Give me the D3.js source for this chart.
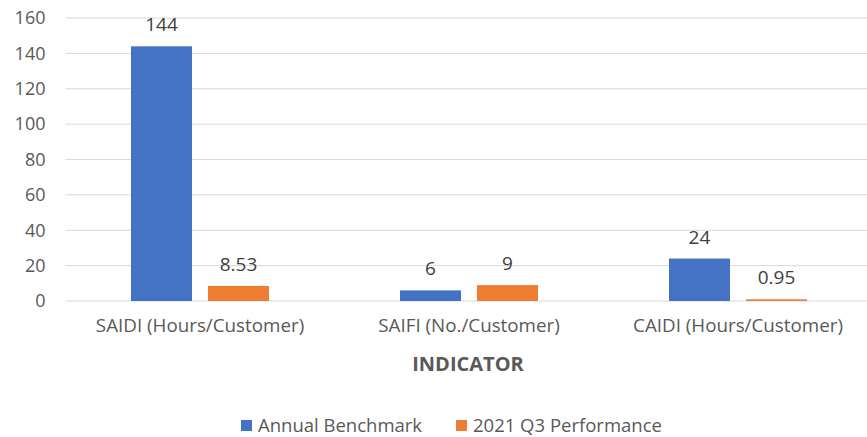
<!DOCTYPE html>
<html><head><meta charset="utf-8">
<script src="https://cdn.jsdelivr.net/npm/d3@7"></script>
<style>body{margin:0;background:#fff;} text{font-family:"Open Sans","Noto Sans",sans-serif;}</style>
</head><body>
<svg id="c" width="867" height="437"></svg>
<script>
const categories = ["SAIDI (Hours/Customer)", "SAIFI (No./Customer)", "CAIDI (Hours/Customer)"];
const seriesNames = ["Annual Benchmark", "2021 Q3 Performance"];
const benchmark = [144, 6, 24];
const performance = [8.53, 9, 0.95];
const benchmarkLabels = ["144", "6", "24"];
const performanceLabels = ["8.53", "9", "0.95"];
const yTicks = [0, 20, 40, 60, 80, 100, 120, 140, 160];
const colors = ["#4472C4", "#ED7D31"];

const svg = d3.select("#c");
const m = {l: 65.5, r: 872.5, t: 18, b: 301};
const x = d3.scaleBand().domain(categories).range([m.l, m.r]);
const y = d3.scaleLinear().domain([0, 160]).range([m.b, m.t]);
const xs = d3.scaleBand().domain(seriesNames).range([0, x.bandwidth()]).paddingInner(0.208).paddingOuter(0.85);

const txt = "#595959";
const fam = '"Open Sans",sans-serif';
// gridlines
svg.append("g").selectAll("line").data(yTicks).join("line")
  .attr("x1", m.l).attr("x2", m.r).attr("y1", d => y(d)).attr("y2", d => y(d))
  .attr("stroke", "#D9D9D9").attr("stroke-width", 1);

// y axis
const ya = svg.append("g").attr("transform", `translate(${m.l},0)`)
  .call(d3.axisLeft(y).tickValues(yTicks).tickSize(0).tickPadding(20));
ya.select(".domain").remove();
ya.selectAll("text").attr("fill", txt).style("font-size", "18px").style("font-family", fam);

// x axis
const xa = svg.append("g").attr("transform", `translate(0,${m.b})`)
  .call(d3.axisBottom(x).tickSize(0).tickPadding(18));
xa.select(".domain").remove();
xa.selectAll("text").attr("fill", txt).style("font-size", "18.8px").style("font-family", fam);

const data = [benchmark, performance];
const labels = [benchmarkLabels, performanceLabels];
data.forEach((vals, si) => {
  const g = svg.append("g");
  g.selectAll("rect").data(vals).join("rect")
    .attr("x", (d, i) => x(categories[i]) + xs(seriesNames[si]))
    .attr("width", xs.bandwidth())
    .attr("y", d => y(d))
    .attr("height", d => y(0) - y(d))
    .attr("fill", colors[si]);
  g.selectAll("text").data(vals).join("text")
    .attr("x", (d, i) => x(categories[i]) + xs(seriesNames[si]) + xs.bandwidth() / 2)
    .attr("y", d => y(d) - 15)
    .attr("text-anchor", "middle")
    .attr("fill", "#404040")
    .style("font-size", "19px")
    .text((d, i) => labels[si][i]);
});

// axis title
svg.append("text").attr("x", (m.l + m.r) / 2 - 1).attr("y", 371).attr("text-anchor", "middle")
  .attr("fill", txt).style("font-size", "20px").style("font-weight", "bold").text("INDICATOR");

// legend
const legX = [241, 456];
seriesNames.forEach((s, i) => {
  svg.append("rect").attr("x", legX[i]).attr("y", 420).attr("width", 11).attr("height", 11).attr("fill", colors[i]);
  svg.append("text").attr("x", legX[i] + 17).attr("y", 432).attr("fill", txt)
    .style("font-size", "18.5px").text(s);
});
</script>
</body></html>
